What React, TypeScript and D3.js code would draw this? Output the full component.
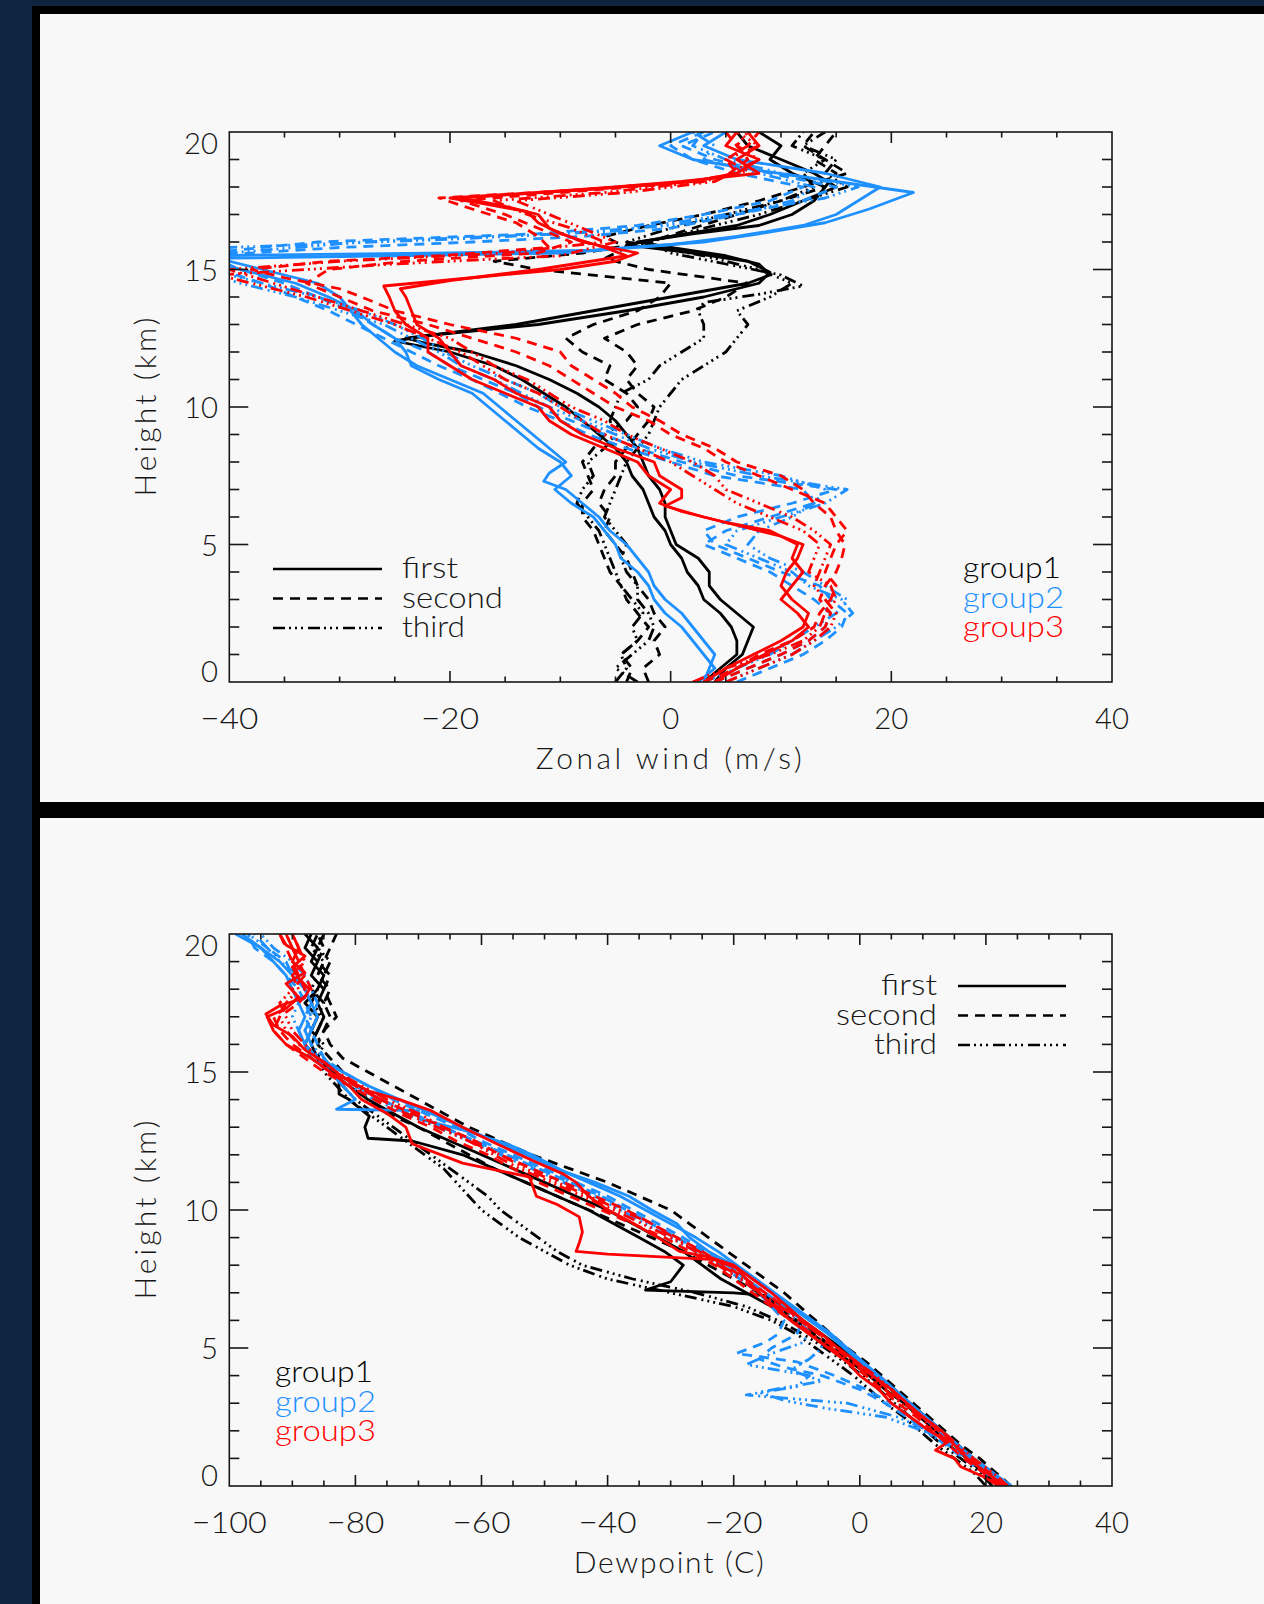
import React, { useEffect, useRef } from "react";
import * as d3 from "d3";

type Pt = [number, number]; // [height (km), value]

// ---------- top panel: zonal wind (m/s) ----------
const windG1First1: Pt[] = [[0,4],[0.5,5],[1,6.5],[1.5,7],[2,7.5],[2.5,6],[3,4.5],[3.5,3.5],[4,3.5],[4.5,2.5],[5,0.5],[5.5,0],[6,-0.5],[6.5,-0.5],[7,-1],[7.5,-2],[8,-2.5],[8.5,-3],[9,-4],[9.5,-5],[10,-6.5],[10.5,-8.5],[11,-11],[11.5,-14],[12,-18],[12.3,-22],[12.5,-24],[12.7,-20],[13,-14],[13.5,-7],[14,0],[14.5,7],[14.8,9],[15.2,8],[15.5,5],[15.8,0],[16,-3],[16.3,2],[16.6,8],[17,11],[17.5,13],[18,14],[18.5,11],[19,9],[19.5,10],[20,8]];
const windG1First2: Pt[] = [[0,3],[0.5,4.5],[1,6],[1.5,6],[2,5.5],[2.5,4.5],[3,3],[3.5,2.5],[4,1.5],[4.5,1],[5,0],[5.5,-0.5],[6,-1.5],[6.5,-2],[7,-2.5],[7.5,-3.5],[8,-4],[8.5,-5],[9,-6.5],[9.5,-8],[10,-9.5],[10.5,-11.5],[11,-13.5],[11.5,-16],[12,-20],[12.4,-25],[12.6,-22],[13,-12],[13.5,-4],[14,3],[14.5,8],[14.9,9],[15.3,7],[15.6,2],[15.9,-4],[16.2,0],[16.6,6],[17,9],[17.5,12],[18,15],[18.5,13],[19,10],[19.5,7],[20,6]];
const windG1Second1: Pt[] = [[0,-4],[0.5,-3.5],[1,-4.5],[1.5,-3],[2,-2],[2.5,-3],[3,-4],[3.5,-4.5],[4,-5.5],[4.5,-6],[5,-6.5],[5.5,-7],[6,-8],[6.5,-8],[7,-7],[7.5,-7.5],[8,-8],[8.5,-7],[9,-6],[9.5,-4],[10,-3],[10.5,-4],[11,-6],[11.5,-5.5],[12,-8],[12.5,-9.5],[13,-7],[13.5,-3],[14,-1],[14.5,0],[15,-12],[15.3,-16],[15.6,-8],[16,-2],[16.5,2],[17,6],[17.5,10],[18,14],[18.5,15],[19,13],[19.5,14],[20,15]];
const windG1Second2: Pt[] = [[0,-2],[0.5,-2.5],[1,-1],[1.5,-1.5],[2,-0.5],[2.5,-1.5],[3,-2],[3.5,-3],[4,-3.5],[4.5,-4],[5,-5],[5.5,-6],[6,-5.5],[6.5,-6.5],[7,-6],[7.5,-5],[8,-5],[8.5,-4],[9,-3],[9.5,-2],[10,-1.5],[10.5,-3],[11,-4],[11.5,-3],[12,-4],[12.5,-6],[13,-3],[13.5,2],[14,5],[14.5,7],[15,-2],[15.4,-6],[15.8,-4],[16.2,-6],[16.6,-2],[17,3],[17.5,8],[18,12],[18.5,16],[19,14],[19.5,12],[20,13]];
const windG1Third1: Pt[] = [[0,-5],[0.5,-4],[1,-4.5],[1.5,-3],[2,-3.5],[2.5,-2.5],[3,-3.5],[3.5,-4.5],[4,-5],[4.5,-5.5],[5,-6],[5.5,-6.5],[6,-7.5],[6.5,-8.5],[7,-8],[7.5,-7],[8,-7.5],[8.5,-6],[9,-5],[9.5,-5.5],[10,-5],[10.5,-4.5],[11,-2],[11.5,-1],[12,1],[12.5,3],[13,3],[13.5,2.5],[13.8,3],[14.1,8],[14.4,12],[14.8,10],[15.2,5],[15.6,0],[16,-2],[16.5,3],[17,8],[17.5,12],[18,16],[18.5,14],[19,15],[19.5,12],[20,14]];
const windG1Third2: Pt[] = [[0,-3],[0.5,-5],[1,-3.5],[1.5,-2],[2,-1.5],[2.5,-2],[3,-3],[3.5,-3],[4,-4],[4.5,-4.5],[5,-4],[5.5,-5],[6,-6],[6.5,-5.5],[7,-5],[7.5,-4.5],[8,-4],[8.5,-3],[9,-2],[9.5,-1.5],[10,-1],[10.5,0],[11,1],[11.5,3],[12,5],[12.5,6],[13,7],[13.5,6],[14,9],[14.5,11],[15,8],[15.5,3],[16,-4],[16.5,0],[17,5],[17.5,10],[18,13],[18.5,12],[19,14],[19.5,11],[20,12]];
const windG2First1: Pt[] = [[0,3],[0.5,3.5],[1,4],[1.5,3],[2,2],[2.5,1],[3,-0.5],[3.5,-1.5],[4,-2],[4.5,-3],[5,-4],[5.5,-5.5],[6,-6.5],[6.5,-8],[7,-9.5],[7.3,-11.5],[7.6,-11],[8,-9.5],[8.5,-11],[9,-12.5],[9.5,-14],[10,-15.5],[10.5,-17],[11,-20],[11.5,-23],[12,-25],[12.5,-26.5],[13,-28],[13.5,-29],[14,-30],[14.5,-32],[15,-37],[15.5,-42],[15.6,-20],[15.7,-7],[16,3],[16.3,8],[16.7,14],[17.2,18],[17.8,22],[18.2,15],[18.6,8],[19,2],[19.5,-1],[20,2]];
const windG2First2: Pt[] = [[0,2.5],[0.5,4],[1,3],[1.5,2],[2,1],[2.5,-0.5],[3,-1.5],[3.5,-2],[4,-3],[4.5,-4.5],[5,-5],[5.5,-6],[6,-7],[6.5,-9],[7,-10.5],[7.5,-9],[8,-10],[8.5,-12],[9,-13.5],[9.5,-15],[10,-16.5],[10.5,-18],[11,-21],[11.5,-23.5],[12,-24],[12.5,-25],[13,-27],[13.5,-28.5],[14,-31],[14.5,-34],[15,-39],[15.4,-42],[15.5,-25],[15.6,-10],[15.9,0],[16.2,6],[16.6,12],[17,15],[17.5,17],[18,19],[18.5,14],[19,6],[19.5,3],[20,5]];
const windG2Second1: Pt[] = [[0,6],[0.5,9],[1,12],[1.5,14],[2,15.5],[2.5,16],[3,14.5],[3.5,13.5],[4,10],[4.5,7],[5,4],[5.5,3],[6,6],[6.5,11],[7,15],[7.5,6],[8,1],[8.5,-3],[9,-6],[9.5,-9],[10,-12],[10.5,-14],[11,-17],[11.5,-20],[12,-22],[12.5,-25],[13,-27],[13.5,-29],[14,-32],[14.5,-35],[15,-39],[15.5,-42],[15.8,-30],[16,-18],[16.2,-8],[16.5,0],[17,6],[17.5,12],[18,15],[18.5,9],[19,4],[19.5,1],[20,4]];
const windG2Second2: Pt[] = [[0,4],[0.5,7],[1,10],[1.5,12.5],[2,14],[2.5,14.5],[3,13],[3.5,11],[4,9],[4.5,6],[5,3],[5.5,5],[6,9],[6.5,13],[7,12],[7.5,4],[8,0],[8.5,-4],[9,-7.5],[9.5,-10],[10,-13],[10.5,-15.5],[11,-18],[11.5,-21],[12,-23.5],[12.5,-26],[13,-28.5],[13.5,-31],[14,-34],[14.5,-37],[15,-41],[15.6,-42],[16,-32],[16.3,-12],[16.6,-3],[17,3],[17.5,9],[18,12],[18.5,6],[19,2],[19.5,0],[20,3]];
const windG2Third1: Pt[] = [[0,5],[0.5,8],[1,11],[1.5,13],[2,15],[2.5,16.5],[3,15.5],[3.5,12.5],[4,11],[4.5,8],[5,5],[5.5,6],[6,10],[6.5,14],[7,16],[7.5,8],[8,2],[8.5,-2],[9,-5],[9.5,-8],[10,-11],[10.5,-13.5],[11,-16],[11.5,-19],[12,-21],[12.5,-23.5],[13,-26],[13.5,-30],[14,-34],[14.5,-39],[15,-43],[15.8,-40],[16.1,-20],[16.4,-5],[16.8,2],[17.2,8],[17.6,14],[18,17],[18.5,10],[19,5],[19.5,2],[20,3]];
const windG2Third2: Pt[] = [[0,3],[0.5,6],[1,9],[1.5,11],[2,13],[2.5,15],[3,16],[3.5,14],[4,12],[4.5,9],[5,7],[5.5,8],[6,11],[6.5,13],[7,14],[7.5,10],[8,3],[8.5,-1],[9,-4],[9.5,-7],[10,-10],[10.5,-12],[11,-15],[11.5,-18],[12,-20.5],[12.5,-22.5],[13,-25],[13.5,-28],[14,-32],[14.5,-37],[15,-42],[15.5,-43],[16,-28],[16.3,-10],[16.6,0],[17,6],[17.5,11],[18,13],[18.5,8],[19,3],[19.5,4],[20,2]];
const windG3First1: Pt[] = [[0,3],[0.5,5],[1,7.5],[1.5,10],[2,12],[2.5,12.5],[3,11],[3.5,10],[4,10.5],[4.5,11.5],[5,12],[5.3,10],[5.6,7],[6,3],[6.4,-0.5],[6.7,1],[7,1],[7.5,-1],[8,-1.5],[8.5,-5],[9,-8],[9.5,-10],[10,-11],[10.5,-14],[11,-16],[11.5,-19],[12,-20],[12.5,-21],[13,-23],[13.5,-23.5],[14,-24],[14.3,-24.5],[14.6,-20],[15,-12],[15.5,-4],[15.8,-6],[16.3,-10],[16.7,-12],[17.1,-13],[17.4,-17],[17.6,-20],[17.8,-12],[18,-5],[18.2,1],[18.5,8],[19,6],[19.5,8],[20,7]];
const windG3First2: Pt[] = [[0,4],[0.5,6],[1,8.5],[1.5,11],[2,12.5],[2.5,11.5],[3,10],[3.5,11],[4,12],[4.5,11],[5,11.5],[5.5,9],[5.8,5],[6.2,1],[6.5,-1],[7,0],[7.5,-2],[8,-3],[8.5,-6],[9,-9],[9.5,-11],[10,-12],[10.5,-15],[11,-18],[11.5,-20],[12,-22],[12.5,-22],[13,-24],[13.5,-25],[14,-25.5],[14.4,-26],[14.7,-18],[15,-10],[15.3,-5],[15.6,-3],[16,-8],[16.5,-11],[17,-12],[17.3,-15],[17.6,-19],[17.9,-8],[18.2,2],[18.5,6],[19,8],[19.5,5],[20,6]];
const windG3Second1: Pt[] = [[0,4],[0.5,7],[1,10],[1.5,12.5],[2,14],[2.5,14.5],[3,13.5],[3.5,14],[4,15],[4.5,15.5],[5,15.8],[5.5,15],[6,14.5],[6.5,13],[7,12],[7.5,10],[8,6],[8.5,4],[9,1],[9.5,-1],[10,-3.5],[10.5,-5],[11,-7],[11.5,-9],[12,-10],[12.5,-14],[13,-20],[13.5,-25],[14,-28],[14.3,-30],[14.7,-35],[15,-38],[15.3,-31],[15.5,-21],[15.8,-11],[16.2,-12],[16.7,-14],[17.2,-18],[17.6,-21],[17.9,-8],[18.2,2],[18.5,6],[19,5],[19.5,7],[20,8]];
const windG3Second2: Pt[] = [[0,3],[0.5,6],[1,8],[1.5,11],[2,13],[2.5,13.5],[3,14.5],[3.5,15],[4,14],[4.5,14.5],[5,15],[5.5,16],[6,15],[6.5,14],[7,11],[7.5,8],[8,5],[8.5,3],[9,0],[9.5,-2],[10,-5],[10.5,-7],[11,-9],[11.5,-11],[12,-14],[12.5,-18],[13,-22],[13.5,-27],[14,-30],[14.5,-33],[15,-31],[15.3,-24],[15.6,-12],[16,-9],[16.5,-12],[17,-15],[17.5,-19],[17.8,-10],[18.1,0],[18.4,5],[19,7],[19.5,6],[20,5]];
const windG3Third1: Pt[] = [[0,5],[0.5,8],[1,11],[1.5,13],[2,14.5],[2.5,15],[3,14],[3.5,13],[4,13.5],[4.5,14],[5,14.5],[5.5,13],[6,11],[6.5,8],[7,5],[7.5,4],[8,2],[8.5,-1],[9,-4],[9.5,-6],[10,-9],[10.5,-11],[11,-13],[11.5,-16],[12,-18],[12.5,-20],[13,-24],[13.5,-28],[14,-32],[14.5,-36],[15,-40],[15.3,-30],[15.6,-15],[16,-6],[16.5,-9],[17,-13],[17.5,-16],[17.8,-6],[18.2,3],[18.6,7],[19,5],[19.5,8],[20,6]];
const windG3Third2: Pt[] = [[0,2],[0.5,5],[1,9],[1.5,12],[2,13.5],[2.5,14],[3,15],[3.5,14.5],[4,12.5],[4.5,13],[5,13.5],[5.5,12],[6,9],[6.5,6],[7,4],[7.5,2],[8,0],[8.5,-3],[9,-6],[9.5,-8],[10,-10],[10.5,-12],[11,-15],[11.5,-17],[12,-19],[12.5,-22],[13,-25],[13.5,-29],[14,-33],[14.5,-38],[14.8,-41],[15.2,-25],[15.5,-10],[16,-5],[16.5,-8],[17,-11],[17.5,-14],[17.8,-4],[18.2,4],[18.6,6],[19,8],[19.5,6],[20,7]];

// ---------- bottom panel: dewpoint (C) ----------
const dewG1First1: Pt[] = [[0,23.5],[0.5,21],[1,18],[1.5,15.5],[2,13],[2.5,10.5],[3,8],[3.5,5.5],[4,3],[4.5,0],[5,-3],[5.5,-6],[6,-9],[6.5,-12],[6.9,-15],[7,-20],[7.1,-34],[7.4,-30],[8,-28],[8.5,-31],[9,-35],[9.5,-39],[10,-43],[10.5,-48],[11,-53],[11.5,-58],[12,-63],[12.5,-71],[12.6,-78],[13,-78.5],[13.4,-77.8],[14,-81],[14.2,-82.6],[14.7,-82.6],[15,-83.5],[15.5,-86],[16,-87],[16.5,-86],[17,-85],[17.5,-86],[18,-85],[18.5,-87],[19,-86],[19.5,-88],[20,-87]];
const dewG1First2: Pt[] = [[0,22],[0.5,19.5],[1,17],[1.5,14],[2,12],[2.5,9.5],[3,7],[3.5,4],[4,1.5],[4.5,-1.5],[5,-4.5],[5.5,-7.5],[6,-10.5],[6.5,-14],[7,-18],[7.5,-22],[8,-25],[8.5,-28],[9,-32],[9.5,-36],[10,-40],[10.5,-45],[11,-50],[11.5,-55],[12,-60],[12.5,-65],[13,-70],[13.5,-74],[14,-78],[14.5,-81],[15,-84],[15.5,-86],[16,-88],[16.5,-87],[17,-86],[17.5,-88],[18,-86],[18.5,-85],[19,-87],[19.5,-86],[20,-88]];
const dewG1Second1: Pt[] = [[0,24],[0.5,21.5],[1,19],[1.5,16],[2,13.5],[2.5,11],[3,8.5],[3.5,6],[4,3.5],[4.5,1],[5,-2],[5.5,-4.5],[6,-7],[6.5,-9.5],[7,-12],[7.5,-15],[8,-18],[8.5,-21],[9,-24],[9.5,-27],[10,-30],[10.5,-35],[11,-40],[11.5,-46],[12,-52],[12.5,-57],[13,-62],[13.5,-66],[14,-70],[14.5,-74],[15,-78],[15.5,-82],[16,-84],[16.5,-85],[17,-84],[17.5,-85],[18,-84],[18.5,-86],[19,-85],[19.5,-84],[20,-83]];
const dewG1Second2: Pt[] = [[0,22],[0.5,20],[1,18],[1.5,15],[2,12.5],[2.5,10],[3,7],[3.5,5],[4,2],[4.5,-1],[5,-4],[5.5,-7],[6,-10],[6.5,-13],[7,-16],[7.5,-20],[8,-24],[8.5,-28],[9,-33],[9.5,-38],[10,-43],[10.5,-48],[11,-53],[11.5,-58],[12,-62],[12.5,-66],[13,-70],[13.5,-75],[14,-78],[14.5,-80],[15,-82],[15.5,-84],[16,-86],[16.5,-85],[17,-83],[17.5,-84],[18,-85],[18.5,-84],[19,-86],[19.5,-85],[20,-86]];
const dewG1Third1: Pt[] = [[0,21],[0.5,19],[1,16],[1.5,13],[2,10.5],[2.5,8],[3,5.5],[3.5,3],[4,0.5],[4.5,-2.5],[5,-5.5],[5.5,-9],[6,-13],[6.5,-18],[7,-26],[7.5,-36],[8,-44],[8.5,-48],[9,-51],[9.5,-54],[10,-57],[10.5,-59],[11,-62],[11.5,-65],[12,-68],[12.5,-71],[13,-74],[13.5,-77],[14,-80],[14.5,-82],[15,-84],[15.5,-86],[16,-87],[16.5,-86],[17,-85],[17.5,-87],[18,-86],[18.5,-85],[19,-84],[19.5,-86],[20,-85]];
const dewG1Third2: Pt[] = [[0,20],[0.5,18],[1,15],[1.5,12],[2,9.5],[2.5,7],[3,4],[3.5,1.5],[4,-1],[4.5,-4],[5,-7],[5.5,-10],[6,-14],[6.5,-20],[7,-30],[7.5,-40],[8,-46],[8.5,-50],[9,-54],[9.5,-57],[10,-60],[10.5,-62],[11,-64],[11.5,-66],[12,-69],[12.5,-72],[13,-75],[13.5,-78],[14,-81],[14.5,-83],[15,-85],[15.5,-86],[16,-85],[16.5,-87],[17,-86],[17.5,-85],[18,-87],[18.5,-86],[19,-85],[19.5,-87],[20,-86]];
const dewG2First1: Pt[] = [[0,23],[0.5,20.5],[1,17.5],[1.5,15],[2,12.5],[2.5,10],[3,7.5],[3.5,5],[4,2.5],[4.5,0],[5,-2.5],[5.5,-5],[6,-8],[6.5,-11],[7,-14],[7.5,-17],[8,-20],[8.5,-24],[9,-27],[9.5,-29],[10,-33],[10.5,-36.6],[11,-42],[11.4,-47],[12,-52],[12.4,-56],[12.9,-63],[13.3,-70],[13.6,-70],[13.65,-83],[14,-80],[14.5,-82],[15,-84],[15.5,-87],[16,-88],[16.5,-89],[17,-88],[17.5,-89],[18,-90],[18.5,-91],[19,-93],[19.5,-95],[20,-98]];
const dewG2First2: Pt[] = [[0,24],[0.5,21],[1,18],[1.5,15.5],[2,13],[2.5,10.5],[3,8],[3.5,5.5],[4,3],[4.5,0.5],[5,-2],[5.5,-4.5],[6,-7.5],[6.5,-10.5],[7,-13.5],[7.5,-16.5],[8,-19.5],[8.5,-22.5],[9,-26],[9.5,-30],[10,-34],[10.5,-38],[11,-43],[11.5,-48],[12,-53],[12.5,-58],[13,-63],[13.5,-68],[14,-73],[14.5,-78],[15,-82],[15.5,-86],[16,-88],[16.5,-87],[17,-86],[17.5,-87],[18,-88],[18.5,-90],[19,-92],[19.5,-95],[20,-99]];
const dewG2Second1: Pt[] = [[0,23],[0.5,20],[1,17],[1.5,14],[2,11],[2.5,8],[3,5],[3.5,1],[4,-4],[4.5,-10],[4.8,-19.6],[5.2,-15],[5.5,-13],[6,-12],[6.5,-14],[7,-16],[7.5,-19],[8,-22],[8.5,-25],[9,-29],[9.5,-33],[10,-37],[10.5,-41],[11,-46],[11.5,-51],[12,-56],[12.5,-61],[13,-66],[13.5,-71],[14,-76],[14.5,-80],[15,-83],[15.5,-86],[16,-87],[16.5,-88],[17,-87],[17.5,-88],[18,-89],[18.5,-91],[19,-93],[19.5,-96],[20,-97]];
const dewG2Second2: Pt[] = [[0,22.5],[0.5,19.5],[1,16.5],[1.5,13.5],[2,10.5],[2.5,7.5],[3,4],[3.5,0],[4,-6],[4.3,-12],[4.6,-16],[5,-14],[5.5,-10],[6,-9],[6.5,-12],[7,-15],[7.5,-18],[8,-21],[8.5,-24.5],[9,-28],[9.5,-32],[10,-36],[10.5,-40],[11,-45],[11.5,-50],[12,-55],[12.5,-60],[13,-64],[13.5,-69],[14,-74],[14.5,-78],[15,-82],[15.5,-85],[16,-86],[16.5,-87],[17,-88],[17.5,-87],[18,-88],[18.5,-90],[19,-91],[19.5,-94],[20,-96]];
const dewG2Third1: Pt[] = [[0,24],[0.5,21],[1,18],[1.5,15],[2,11],[2.5,6],[3,-2],[3.3,-18],[3.6,-10],[4,-8],[4.4,-18],[4.8,-14],[5.2,-9],[5.6,-8],[6,-10],[6.5,-13],[7,-16],[7.5,-19],[8,-22],[8.5,-26],[9,-30],[9.5,-34],[10,-38],[10.5,-42],[11,-47],[11.5,-52],[12,-57],[12.5,-62],[13,-67],[13.5,-72],[14,-77],[14.5,-81],[15,-84],[15.5,-86],[16,-88],[16.5,-89],[17,-90],[17.5,-89],[18,-88],[18.5,-89],[19,-92],[19.5,-94],[20,-97]];
const dewG2Third2: Pt[] = [[0,23.5],[0.5,20.5],[1,17.5],[1.5,14],[2,10],[2.5,4],[2.8,-5],[3.1,-12],[3.4,-16],[3.8,-6],[4.2,-11],[4.6,-8],[5,-6],[5.5,-6.5],[6,-9],[6.5,-12],[7,-15],[7.5,-18],[8,-21],[8.5,-25],[9,-29],[9.5,-33],[10,-37],[10.5,-41],[11,-46],[11.5,-51],[12,-56],[12.5,-61],[13,-66],[13.5,-71],[14,-76],[14.5,-80],[15,-83],[15.5,-85],[16,-87],[16.5,-88],[17,-87],[17.5,-86],[18,-87],[18.5,-88],[19,-90],[19.5,-93],[20,-95]];
const dewG3First1: Pt[] = [[0,23],[0.5,20],[1,17],[1.5,15],[2,13],[2.5,10],[3,7.5],[3.5,5],[4,2],[4.5,-0.5],[5,-3.5],[5.5,-6],[6,-9],[6.5,-11.5],[7,-14],[7.5,-17],[8,-20],[8.3,-24],[8.5,-28.6],[9,-32],[9.6,-36.6],[10,-40],[10.5,-43],[11,-45],[11.3,-47],[11.8,-52],[12.4,-57.6],[13,-63],[13.6,-68],[14,-73],[14.3,-77.8],[14.8,-82],[15.3,-84.6],[15.8,-88],[16.3,-90],[16.7,-93],[17.1,-94.2],[17.4,-92],[17.7,-88],[18,-87.3],[18.4,-89],[18.8,-90],[19.2,-88],[19.6,-91],[20,-92]];
const dewG3First2: Pt[] = [[0,22],[0.3,20],[0.7,16],[1,15],[1.3,12],[1.6,14],[2,11],[2.5,8],[3,5],[3.5,3],[4,0],[4.5,-2],[5,-5],[5.5,-8],[6,-11],[6.5,-13.5],[7,-16],[7.5,-18],[7.9,-19.6],[8.2,-23],[8.4,-40],[8.5,-45],[8.8,-44.5],[9.2,-44],[9.75,-44.5],[10.2,-48],[10.5,-51.3],[11.2,-52.4],[11.4,-56.7],[11.7,-63],[12.4,-71],[13,-72],[13.5,-75],[14,-79],[14.5,-81],[15,-84],[15.5,-87],[16,-91],[16.5,-93],[17,-94],[17.3,-91],[17.7,-89],[18.2,-91],[18.6,-88],[19,-90],[19.5,-89],[20,-90]];
const dewG3Second1: Pt[] = [[0,23],[0.5,20.5],[1,17.5],[1.5,15],[2,12.5],[2.5,10],[3,7],[3.5,4.5],[4,2],[4.5,-1],[5,-4],[5.5,-6.5],[6,-9.5],[6.5,-12],[7,-15],[7.5,-18],[8,-21.5],[8.5,-25],[9,-29],[9.5,-33],[10,-37],[10.5,-42],[11,-47],[11.5,-52],[12,-57],[12.5,-61],[13,-66],[13.5,-71],[14,-76],[14.5,-80],[15,-84],[15.5,-87],[16,-90],[16.5,-92],[17,-93],[17.5,-90],[18,-88],[18.5,-89],[19,-90],[19.5,-91],[20,-92]];
const dewG3Second2: Pt[] = [[0,22],[0.5,19.5],[1,16.5],[1.5,14],[2,11.5],[2.5,9],[3,6],[3.5,3.5],[4,1],[4.5,-2],[5,-5],[5.5,-8],[6,-11],[6.5,-14],[7,-17],[7.5,-20],[8,-23],[8.5,-27],[9,-31],[9.5,-36],[10,-41],[10.5,-46],[11,-51],[11.5,-55],[12,-59],[12.5,-64],[13,-68],[13.5,-73],[14,-77],[14.5,-81],[15,-85],[15.5,-88],[16,-91],[16.5,-93],[17,-92],[17.5,-89],[18,-87],[18.5,-88],[19,-89],[19.5,-90],[20,-91]];
const dewG3Third1: Pt[] = [[0,22.5],[0.5,20],[1,17],[1.5,14.5],[2,12],[2.5,9.5],[3,6.5],[3.5,4],[4,1.5],[4.5,-1.5],[5,-4.5],[5.5,-7.5],[6,-10.5],[6.5,-13],[7,-16],[7.5,-19],[8,-22.5],[8.5,-26],[9,-30],[9.5,-34.5],[10,-39],[10.5,-44],[11,-49],[11.5,-54],[12,-58],[12.5,-62],[13,-67],[13.5,-72],[14,-76],[14.5,-80],[15,-83],[15.5,-86],[16,-89],[16.5,-91],[17,-92],[17.5,-91],[18,-89],[18.5,-90],[19,-88],[19.5,-89],[20,-90]];
const dewG3Third2: Pt[] = [[0,23.5],[0.5,21],[1,18],[1.5,15.5],[2,13],[2.5,10],[3,7.5],[3.5,5],[4,2.5],[4.5,-0.5],[5,-3.5],[5.5,-6.5],[6,-9.5],[6.5,-12.5],[7,-15.5],[7.5,-18.5],[8,-22],[8.5,-25.5],[9,-29.5],[9.5,-33],[10,-38],[10.5,-43],[11,-48],[11.5,-53],[12,-57],[12.5,-62],[13,-66],[13.5,-70],[14,-75],[14.5,-79],[15,-83],[15.5,-86],[16,-88],[16.5,-90],[17,-91],[17.5,-92],[18,-90],[18.5,-88],[19,-89],[19.5,-90],[20,-91]];

const groupNames = ["group1", "group2", "group3"];
const styleNames = ["first", "second", "third"];
const heightTicks = [0, 5, 10, 15, 20];
const windTicks = [-40, -20, 0, 20, 40];
const dewTicks = [-100, -80, -60, -40, -20, 0, 20, 40];

const windSeries: { g: number; s: number; pts: Pt[] }[] = [
  { g: 0, s: 0, pts: windG1First1 }, { g: 0, s: 0, pts: windG1First2 },
  { g: 0, s: 1, pts: windG1Second1 }, { g: 0, s: 1, pts: windG1Second2 },
  { g: 0, s: 2, pts: windG1Third1 }, { g: 0, s: 2, pts: windG1Third2 },
  { g: 1, s: 0, pts: windG2First1 }, { g: 1, s: 0, pts: windG2First2 },
  { g: 1, s: 1, pts: windG2Second1 }, { g: 1, s: 1, pts: windG2Second2 },
  { g: 1, s: 2, pts: windG2Third1 }, { g: 1, s: 2, pts: windG2Third2 },
  { g: 2, s: 0, pts: windG3First1 }, { g: 2, s: 0, pts: windG3First2 },
  { g: 2, s: 1, pts: windG3Second1 }, { g: 2, s: 1, pts: windG3Second2 },
  { g: 2, s: 2, pts: windG3Third1 }, { g: 2, s: 2, pts: windG3Third2 },
];
const dewSeries: { g: number; s: number; pts: Pt[] }[] = [
  { g: 0, s: 0, pts: dewG1First1 }, { g: 0, s: 0, pts: dewG1First2 },
  { g: 0, s: 1, pts: dewG1Second1 }, { g: 0, s: 1, pts: dewG1Second2 },
  { g: 0, s: 2, pts: dewG1Third1 }, { g: 0, s: 2, pts: dewG1Third2 },
  { g: 1, s: 0, pts: dewG2First1 }, { g: 1, s: 0, pts: dewG2First2 },
  { g: 1, s: 1, pts: dewG2Second1 }, { g: 1, s: 1, pts: dewG2Second2 },
  { g: 1, s: 2, pts: dewG2Third1 }, { g: 1, s: 2, pts: dewG2Third2 },
  { g: 2, s: 0, pts: dewG3First1 }, { g: 2, s: 0, pts: dewG3First2 },
  { g: 2, s: 1, pts: dewG3Second1 }, { g: 2, s: 1, pts: dewG3Second2 },
  { g: 2, s: 2, pts: dewG3Third1 }, { g: 2, s: 2, pts: dewG3Third2 },
];

const COLORS = ["#000000", "#1e90ff", "#ff0000"];
const DASHES = [null, "10,7", "12,4,2,4,2,4,2,5"];
const FONT = "Lato, 'DejaVu Sans', sans-serif";
const INK = "#161616";

const fmt = (v: number) => (v < 0 ? "\u2212" + Math.abs(v) : String(v));
const tickLen = (v: number) => String(Math.abs(v)).length * 17 + (v < 0 ? 24 : 0);

function drawPanel(root: any, p: any) {
  const x = d3.scaleLinear().domain(p.xDomain).range([229.3, 1112]);
  const y = d3.scaleLinear().domain([0, 20]).range([p.bottom, p.top]);
  const g = root.append("g");
  const [x0, x1] = x.range();

  g.append("clipPath").attr("id", "clip" + p.id)
    .append("rect").attr("x", x0).attr("y", p.top).attr("width", x1 - x0).attr("height", p.bottom - p.top);

  const line = d3.line<Pt>().x((d) => x(d[1])).y((d) => y(d[0]));
  const lines = g.append("g").attr("clip-path", `url(#clip${p.id})`);
  p.series.forEach((s: any) => {
    lines.append("path")
      .attr("d", line(s.pts))
      .attr("fill", "none")
      .attr("stroke", COLORS[s.g])
      .attr("stroke-width", 2.8)
      .attr("stroke-linejoin", "round")
      .attr("stroke-dasharray", DASHES[s.s]);
  });

  // frame
  g.append("rect").attr("x", x0).attr("y", p.top).attr("width", x1 - x0).attr("height", p.bottom - p.top)
    .attr("fill", "none").attr("stroke", INK).attr("stroke-width", 1.6);

  const ticks = g.append("g").attr("stroke", INK).attr("stroke-width", 1.6);
  d3.range(p.xDomain[0] + 5, p.xDomain[1], 5).forEach((v: number) => {
    const len = v % 20 === 0 ? 11 : 5.5;
    ticks.append("line").attr("x1", x(v)).attr("x2", x(v)).attr("y1", p.bottom).attr("y2", p.bottom - len);
    ticks.append("line").attr("x1", x(v)).attr("x2", x(v)).attr("y1", p.top).attr("y2", p.top + len);
  });
  d3.range(1, 20, 1).forEach((v: number) => {
    const len = v % 5 === 0 ? 19 : 10;
    ticks.append("line").attr("x1", x0).attr("x2", x0 + len).attr("y1", y(v)).attr("y2", y(v));
    ticks.append("line").attr("x1", x1).attr("x2", x1 - len).attr("y1", y(v)).attr("y2", y(v));
  });

  const txt = g.append("g").attr("font-family", FONT).attr("font-weight", 300).attr("font-size", 30).attr("fill", INK);
  p.xTicks.forEach((v: number) => {
    txt.append("text").attr("x", x(v)).attr("y", p.bottom + 47).attr("text-anchor", "middle")
      .attr("textLength", tickLen(v)).attr("lengthAdjust", "spacingAndGlyphs").text(fmt(v));
  });
  heightTicks.forEach((v) => {
    const base = Math.min(Math.max(y(v) + 11, p.top + 22), p.bottom);
    txt.append("text").attr("x", 218).attr("y", base).attr("text-anchor", "end")
      .attr("textLength", tickLen(v)).attr("lengthAdjust", "spacingAndGlyphs").text(fmt(v));
  });
  txt.append("text").attr("x", (x0 + x1) / 2 - 2).attr("y", p.bottom + 87).attr("text-anchor", "middle")
    .attr("textLength", p.xTitleLen).attr("lengthAdjust", "spacing").text(p.xTitle);
  const cy = (p.top + p.bottom) / 2;
  txt.append("text").attr("transform", `translate(156,${cy}) rotate(-90)`).attr("text-anchor", "middle")
    .attr("textLength", 179).attr("lengthAdjust", "spacing").text("Height (km)");

  // line-style legend
  const sl = p.styleLegend;
  styleNames.forEach((name, i) => {
    g.append("line").attr("x1", sl.lx0).attr("x2", sl.lx1).attr("y1", sl.y + i * 29.5 - 9).attr("y2", sl.y + i * 29.5 - 9)
      .attr("stroke", "#000").attr("stroke-width", 2.6).attr("stroke-dasharray", DASHES[i]);
    txt.append("text").attr("x", sl.tx).attr("y", sl.y + i * 29.5).attr("text-anchor", sl.anchor)
      .attr("textLength", [56, 101, 63][i]).attr("lengthAdjust", "spacingAndGlyphs").text(name);
  });
  // group legend
  const gl = p.groupLegend;
  groupNames.forEach((name, i) => {
    txt.append("text").attr("x", gl.x).attr("y", gl.y + i * 29.5).attr("fill", COLORS[i])
      .attr("textLength", [98, 101, 101][i]).attr("lengthAdjust", "spacingAndGlyphs").text(name);
  });
}

const App = () => {
  const ref = useRef<SVGSVGElement>(null);

  useEffect(() => {
    const svg = d3.select(ref.current);
    svg.selectAll("*").remove();
    svg.append("rect").attr("width", 1264).attr("height", 1604).attr("fill", "#0f2441");
    svg.append("rect").attr("x", 32).attr("y", 6).attr("width", 1240).attr("height", 1610).attr("fill", "#000");
    svg.append("rect").attr("x", 40).attr("y", 14).attr("width", 1230).attr("height", 788).attr("fill", "#f8f8f8");
    svg.append("rect").attr("x", 40).attr("y", 818).attr("width", 1230).attr("height", 800).attr("fill", "#f8f8f8");

    drawPanel(svg, {
      id: "wind", top: 132, bottom: 682, xDomain: [-40, 40], xTicks: windTicks, series: windSeries,
      xTitle: "Zonal wind (m/s)", xTitleLen: 266,
      styleLegend: { lx0: 273, lx1: 382, tx: 402, y: 578, anchor: "start" },
      groupLegend: { x: 963, y: 578 },
    });
    drawPanel(svg, {
      id: "dew", top: 934, bottom: 1486, xDomain: [-100, 40], xTicks: dewTicks, series: dewSeries,
      xTitle: "Dewpoint (C)", xTitleLen: 190,
      styleLegend: { lx0: 958, lx1: 1066, tx: 937, y: 995, anchor: "end" },
      groupLegend: { x: 275, y: 1382 },
    });
  }, []);

  return (
    <div style={{ position: "absolute", left: 0, top: 0 }}>
      <svg ref={ref} width={1264} height={1604} style={{ display: "block" }} />
    </div>
  );
};

export default App;
